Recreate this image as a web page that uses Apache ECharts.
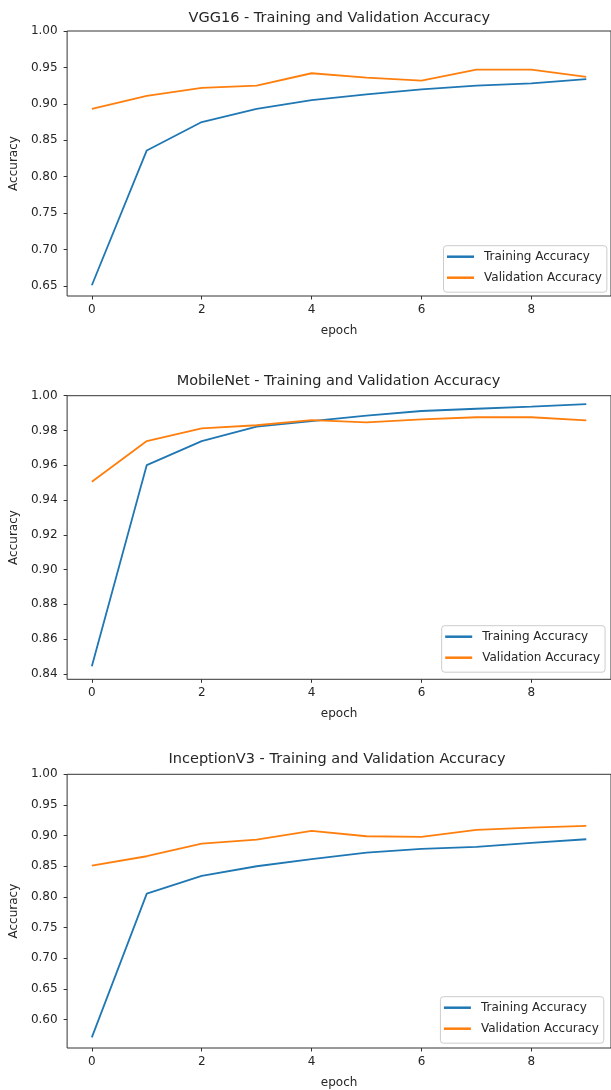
<!DOCTYPE html>
<html>
<head>
<meta charset="utf-8">
<script src="https://cdn.jsdelivr.net/npm/echarts@6/dist/echarts.min.js"></script>
<style>
html,body{margin:0;padding:0;background:#fff;}
#chart{width:611px;height:1090px;}
</style>
</head>
<body>
<div id="chart"></div>
<script>
// ---- data ----
const epochs = [0, 1, 2, 3, 4, 5, 6, 7, 8, 9];
const seriesNames = ['Training Accuracy', 'Validation Accuracy'];
const titles = [
  'VGG16 - Training and Validation Accuracy',
  'MobileNet - Training and Validation Accuracy',
  'InceptionV3 - Training and Validation Accuracy'
];
const vggTrain = [0.651, 0.836, 0.875, 0.893, 0.905, 0.913, 0.920, 0.925, 0.928, 0.934];
const vggVal   = [0.893, 0.911, 0.922, 0.925, 0.942, 0.936, 0.932, 0.947, 0.947, 0.937];
const mobTrain = [0.8444, 0.9601, 0.9739, 0.9822, 0.9854, 0.9885, 0.9912, 0.9925, 0.9937, 0.9952];
const mobVal   = [0.9505, 0.9739, 0.9812, 0.9830, 0.9860, 0.9847, 0.9864, 0.9876, 0.9876, 0.9858];
const incTrain = [0.571, 0.8055, 0.8344, 0.8501, 0.8616, 0.8723, 0.8783, 0.8816, 0.8881, 0.8941];
const incVal   = [0.8511, 0.8664, 0.8870, 0.8935, 0.9077, 0.8990, 0.8979, 0.9093, 0.9131, 0.9158];
const xTicks = [0, 2, 4, 6, 8];
const vggTicks = [0.65, 0.70, 0.75, 0.80, 0.85, 0.90, 0.95, 1.00];
const mobTicks = [0.84, 0.86, 0.88, 0.90, 0.92, 0.94, 0.96, 0.98, 1.00];
const incTicks = [0.60, 0.65, 0.70, 0.75, 0.80, 0.85, 0.90, 0.95, 1.00];

// ---- layout / style ----
const FONT = 'DejaVu Sans';
const TXT = '#262626';
const SPINE = '#333333';
const BLUE = '#1f77b4', ORANGE = '#ff7f0e';
const panels = [
  {train: vggTrain, val: vggVal, ticks: vggTicks, grid: {left: 65, top: 31, width: 548.5, height: 265}, titleY: 10.5, legend: {left: 443.5, top: 245.7}},
  {train: mobTrain, val: mobVal, ticks: mobTicks, grid: {left: 64.3, top: 395.7, width: 548.3, height: 283.6}, titleY: 373, legend: {left: 441.7, top: 625.7}},
  {train: incTrain, val: incVal, ticks: incTicks, grid: {left: 62.3, top: 774.3, width: 549.5, height: 274.7}, titleY: 751.5, legend: {left: 440.4, top: 996.7}}
];

const option = {animation: false, backgroundColor: '#fff', title: [], grid: [], xAxis: [], yAxis: [], legend: [], series: []};

panels.forEach((p, i) => {
  const all = p.train.concat(p.val);
  const dmin = Math.min(...all), dmax = Math.max(...all);
  const ymin = dmin - 0.05 * (dmax - dmin);
  const cx = p.grid.left + p.grid.width / 2;
  option.title.push({
    text: titles[i], left: cx, top: p.titleY, textAlign: 'center', padding: 0,
    textStyle: {fontFamily: FONT, fontSize: 14.5, fontWeight: 'normal', color: TXT, lineHeight: 16}
  });
  option.grid.push(Object.assign({show: true, borderColor: SPINE, borderWidth: 1, backgroundColor: 'transparent', containLabel: false}, p.grid));
  option.xAxis.push({
    type: 'value', gridIndex: i, min: -0.45, max: 9.45, position: 'bottom',
    name: 'epoch', nameLocation: 'middle', nameGap: 29,
    nameTextStyle: {fontFamily: FONT, fontSize: 12, color: TXT},
    axisLine: {show: false, onZero: false},
    splitLine: {show: false},
    axisTick: {show: true, inside: false, length: 3.5, lineStyle: {color: SPINE, width: 1}, customValues: xTicks},
    axisLabel: {show: true, margin: 8, fontFamily: FONT, fontSize: 12, color: TXT, customValues: xTicks, formatter: v => String(v)}
  });
  option.yAxis.push({
    type: 'value', gridIndex: i, min: ymin, max: 1.0, position: 'left',
    name: 'Accuracy', nameLocation: 'middle', nameGap: 37, nameRotate: 90,
    nameTextStyle: {fontFamily: FONT, fontSize: 12, color: TXT},
    axisLine: {show: false, onZero: false},
    splitLine: {show: false},
    axisTick: {show: true, inside: false, length: 3.5, lineStyle: {color: SPINE, width: 1}, customValues: p.ticks},
    axisLabel: {show: true, margin: 9.5, fontFamily: FONT, fontSize: 12, color: TXT, customValues: p.ticks, formatter: v => v.toFixed(2)}
  });
  option.legend.push({
    orient: 'vertical', left: p.legend.left, top: p.legend.top,
    data: seriesNames, icon: 'rect', itemWidth: 27, itemHeight: 2.5, itemGap: 7,
    padding: [4, 5, 7.5, 3.5],
    borderColor: '#cccccc', borderWidth: 1, borderRadius: 3, backgroundColor: 'rgba(255,255,255,0.8)',
    selectedMode: false,
    textStyle: {fontFamily: FONT, fontSize: 12, color: TXT, lineHeight: 14, padding: [0, 0, 0, 5]}
  });
  [[seriesNames[0], p.train, BLUE], [seriesNames[1], p.val, ORANGE]].forEach(([name, vals, col]) => {
    option.series.push({
      type: 'line', name, xAxisIndex: i, yAxisIndex: i,
      data: epochs.map((e, k) => [e, vals[k]]),
      symbol: 'none', showSymbol: false, color: col,
      lineStyle: {color: col, width: 1.8}, itemStyle: {color: col}
    });
  });
});

const chart = echarts.init(document.getElementById('chart'), null, {renderer: 'canvas'});
chart.setOption(option);
</script>
</body>
</html>
